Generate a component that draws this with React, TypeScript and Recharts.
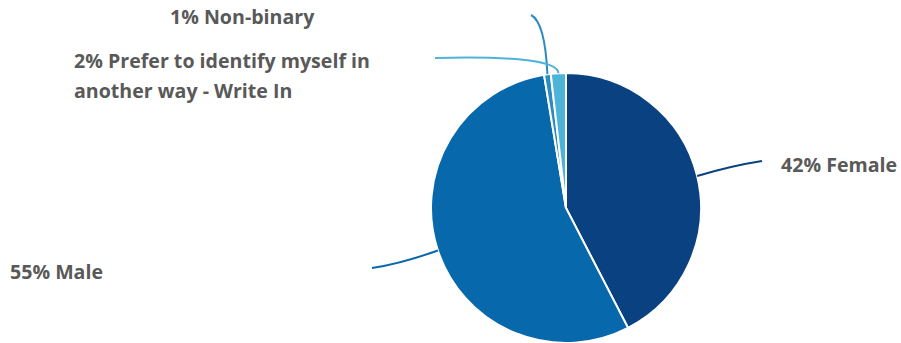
import { PieChart, Pie, Cell } from 'recharts';

const categories = ['Female', 'Male', 'Non-binary', 'Prefer to identify myself in another way - Write In'];
const shares = [42.4, 55.0, 0.8, 1.8];
const labelLines = [['42% Female'], ['55% Male'], ['1% Non-binary'], ['2% Prefer to identify myself in', 'another way - Write In']];

const colors = ['#0a4181', '#0868ac', '#2b8cc4', '#4eb3d8'];

// where each leader line ends, its bend point, and where the text sits
const labelLayout = [
    { ex: 762, ey: 161, qx: 730, qy: 166, tx: 781, ty: 172 },
    { ex: 372, ey: 268, qx: 400, qy: 264, tx: 10, ty: 279 },
    { ex: 531, ey: 15, qx: 545, qy: 22, tx: 170, ty: 24 },
    { ex: 435, ey: 58, qx: 558, qy: 55, tx: 74, ty: 68 },
];

const data = categories.map((name, i) => ({ name, value: shares[i] }));
const RADIAN = Math.PI / 180;

function renderLabel(props: any) {
    const { cx, cy, midAngle, outerRadius, index } = props;
    const sx = cx + outerRadius * Math.cos(-midAngle * RADIAN);
    const sy = cy + outerRadius * Math.sin(-midAngle * RADIAN);
    const l = labelLayout[index];
    return (
        <g key={`lbl-${index}`}>
            <path
                d={`M${sx},${sy} Q${l.qx},${l.qy} ${l.ex},${l.ey}`}
                stroke={colors[index]}
                strokeWidth={2}
                fill="none"
            />
            <text
                x={l.tx}
                y={l.ty}
                textAnchor="start"
                fill="#595959"
                fontSize={19.6}
                fontWeight={700}
                fontFamily="'Open Sans', sans-serif"
            >
                {labelLines[index].map((line, j) => (
                    <tspan key={j} x={l.tx} dy={j === 0 ? 0 : 30}>
                        {line}
                    </tspan>
                ))}
            </text>
        </g>
    );
}

export default function App() {
    return (
        <div style={{ position: 'absolute', left: 0, top: 0, width: 901, height: 343, background: '#fff' }}>
            <PieChart width={901} height={343} margin={{ top: 0, right: 0, bottom: 0, left: 0 }}>
                <Pie
                    data={data}
                    dataKey="value"
                    cx={566}
                    cy={208}
                    outerRadius={135}
                    startAngle={90}
                    endAngle={-270}
                    stroke="#ffffff"
                    strokeWidth={2}
                    label={renderLabel}
                    labelLine={false}
                    isAnimationActive={false}
                >
                    {data.map((d, i) => (
                        <Cell key={d.name} fill={colors[i]} />
                    ))}
                </Pie>
            </PieChart>
        </div>
    );
}
